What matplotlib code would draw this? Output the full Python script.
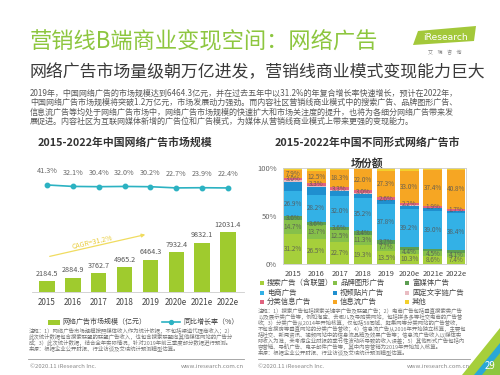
import matplotlib
matplotlib.use('Agg')
import matplotlib.pyplot as plt
from matplotlib.patches import Polygon, Rectangle
from matplotlib.lines import Line2D

plt.rcParams['font.family'] = ['Noto Sans CJK SC', 'DejaVu Sans']

# datos
years = ['2015', '2016', '2017', '2018', '2019', '2020e', '2021e', '2022e']
market = [2184.5, 2884.9, 3762.7, 4965.2, 6464.3, 7932.4, 9832.1, 12031.4]
growth = [41.3, 32.1, 30.4, 32.0, 30.2, 22.7, 23.9, 22.4]

share_names = ['搜索广告（含联盟）', '品牌图形广告', '富媒体广告', '电商广告', '视频贴片广告',
               '固定文字链广告', '分类信息广告', '信息流广告', '其他']
search = [31.2, 26.5, 22.7, 19.3, 13.5, 10.3, 8.6, 7.4]
brand = [14.7, 13.7, 12.5, 11.3, 7.7, 4.4, 4.5, 4.1]
rich = [3.6, 3.6, 3.6, 3.4, 3.7, 3.4, 3.0, 2.8]
ecom = [26.9, 28.2, 32.0, 35.2, 37.8, 39.2, 39.0, 38.4]
video = [9.0, 8.0, 5.0, 3.8, 3.6, 3.4, 3.0, 2.6]
fixed = [1.6, 1.2, 1.0, 0.8, 0.6, 0.5, 0.4, 0.4]
classified = [3.0, 3.3, 3.3, 3.0, 2.6, 2.2, 1.9, 1.7]
feed = [7.9, 12.5, 18.3, 22.0, 27.3, 33.0, 37.4, 40.8]
other = [2.1, 3.0, 1.6, 1.2, 3.2, 3.6, 2.2, 1.8]
shares = [search, brand, rich, ecom, video, fixed, classified, feed, other]
share_colors = ['#a6cf3b', '#86c04a', '#5c9e52', '#33b1e6', '#1f8fcf',
                '#e9bcc2', '#e0637f', '#f6a623', '#f3d02c']
# que años llevan etiqueta en cada serie
todos = [True] * 8
ninguno = [False] * 8
share_labeled = [todos, todos, [True] * 5 + [False] * 3, todos, ninguno,
                 ninguno, todos, todos, ninguno]

W, H = 500, 375


def fp(x, y):
    # pixeles -> fraccion de figura
    return x / W, 1 - y / H


def txt(x, y, s, **kw):
    kw.setdefault('va', 'center')
    fig.text(x / W, 1 - y / H, s, **kw)


def hline(x0, x1, y, color='#9a9a9a', lw=0.6):
    fig.add_artist(Line2D([x0 / W, x1 / W], [1 - y / H, 1 - y / H],
                          transform=fig.transFigure, color=color, lw=lw))


fig = plt.figure(figsize=(5, 3.75), dpi=100)
fig.patch.set_facecolor('white')

# encabezado
txt(30, 42, '营销线B端商业变现空间：网络广告', fontsize=16, color='#8dc63f')
txt(30, 72, '网络广告市场量级朝万亿进发，营销线商业模式变现能力巨大', fontsize=12.2, color='#3a3a3a')
parrafo = ['2019年，中国网络广告的市场规模达到6464.3亿元，并在过去五年中以31.2%的年复合增长率快速增长，预计在2022年，',
           '中国网络广告市场规模将突破1.2万亿元，市场发展动力强劲。而内容社区营销线商业模式中的搜索广告、品牌图形广告、',
           '信息流广告等均处于网络广告市场中，网络广告市场规模的快速扩大和市场关注度的提升，也将为各细分网络广告带来发',
           '展促进。内容社区为互联网媒体新增的广告位和广告模式，为媒体从营销线商业模式上带来更强的变现能力。']
for i, l in enumerate(parrafo):
    txt(30, 93 + i * 9.5, l, fontsize=5.8, color='#595959')

# logo
fig.add_artist(Polygon([fp(413, 45), fp(474, 41), fp(476, 26), fp(418, 31)],
                       closed=True, transform=fig.transFigure, facecolor='#a3c83a', edgecolor='none'))
txt(445, 37, 'iResearch', fontsize=6.6, color='white', ha='center', family='DejaVu Sans')
txt(445, 53, '艾    瑞    咨    询', fontsize=3.6, color='#888888', ha='center')

# titulos de graficas
txt(125, 143, '2015-2022年中国网络广告市场规模', fontsize=7.8, color='#333333', ha='center', weight='bold')
txt(367, 143, '2015-2022年中国不同形式网络广告市', fontsize=7.8, color='#333333', ha='center', weight='bold')
txt(367, 163, '场份额', fontsize=7.8, color='#333333', ha='center', weight='bold')

# grafica izquierda: barras + crecimiento
x = list(range(len(years)))
ax = fig.add_axes([31.5 / W, 1 - 292 / H, 212 / W, 127 / H])
ax.bar(x, market, width=0.6, color='#9fcb2e')
for xi, v in zip(x, market):
    ax.text(xi, v + 700, f'{v}', ha='center', va='bottom', fontsize=5.2, color='#555555')
ax.set_xlim(-0.6, 7.6)
ax.set_ylim(0, 25470)
ax.set_yticks([])
ax.set_xticks(x)
ax.set_xticklabels(years, fontsize=5.8, color='#444444')
ax.tick_params(axis='x', length=0, pad=4)
for s in ['top', 'right', 'left']:
    ax.spines[s].set_visible(False)
ax.spines['bottom'].set_color('#cccccc')
ax.spines['bottom'].set_linewidth(0.6)

ax2 = ax.twinx()
ax2.plot(x, growth, color='#2cb2c2', lw=1.2, marker='o', ms=3.2)
for xi, g in zip(x, growth):
    ax2.annotate(f'{g}%', (xi, g), xytext=(0, 7), textcoords='offset points',
                 ha='center', va='bottom', fontsize=5.2, color='#666666')
ax2.set_ylim(-633, 167)
ax2.axis('off')

# flecha CAGR
ax.annotate('', xy=(148, H - 234), xytext=(47, H - 257), xycoords='figure pixels',
            textcoords='figure pixels',
            arrowprops=dict(arrowstyle='-|>', color='#f0dc60', lw=0.9, mutation_scale=5))
txt(92, 242, 'CAGR=31.2%', fontsize=5, color='#e9cc3a', ha='center', rotation=12.8)

# leyenda izquierda
fig.add_artist(Rectangle(fp(48, 325), 12 / W, 5 / H, transform=fig.transFigure,
                         facecolor='#9fcb2e', edgecolor='none'))
txt(62, 322, '网络广告市场规模（亿元）', fontsize=5, color='#444444')
fig.add_artist(Line2D([162 / W, 180 / W], [1 - 322 / H, 1 - 322 / H], transform=fig.transFigure,
                      color='#2cb2c2', lw=1.2))
fig.add_artist(Line2D([171 / W], [1 - 322 / H], transform=fig.transFigure,
                      color='#2cb2c2', marker='o', ms=2.8))
txt(183, 322, '同比增长率（%）', fontsize=5, color='#444444')

notas_izq = ['注释：1）网络广告市场规模按照媒体收入作为统计依据，不包括渠道代理商收入；2）',
             '此次统计数据包含搜索联盟的联盟广告收入，也包含搜索联盟向其他媒体网站的广告分',
             '成；3）此次统计数据，结合全年实际情况，针对2019年前三季度部分数据进行预测。',
             '来源：根据企业公开财报、行业访谈及艾瑞统计预测模型估算。']
for i, l in enumerate(notas_izq):
    txt(29, 331 + i * 6, l, fontsize=3.9, color='#777777')

# grafica derecha: barras apiladas
bx = fig.add_axes([282.5 / W, 1 - 264 / H, 184 / W, 96 / H])
bottom = [0.0] * len(years)
for vals, col, lab in zip(shares, share_colors, share_labeled):
    bx.bar(x, vals, bottom=bottom, width=0.8, color=col)
    for xi, v, b, show in zip(x, vals, bottom, lab):
        if show:
            bx.text(xi, b + v / 2, f'{v}%', ha='center', va='center', fontsize=4.6,
                    color='#555555', alpha=0.85)
    bottom = [b + v for b, v in zip(bottom, vals)]
bx.set_xlim(-0.45, 7.45)
bx.set_ylim(0, 100)
bx.set_yticks([0, 50, 100])
bx.set_yticklabels(['0%', '50%', '100%'], fontsize=5.5, color='#666666')
bx.set_xticks(x)
bx.set_xticklabels(years, fontsize=5.4, color='#444444')
bx.tick_params(length=0, pad=4)
for s in bx.spines.values():
    s.set_color('#cccccc')
    s.set_linewidth(0.6)

# leyenda derecha
col_x = [262, 335, 407]
row_y = [283, 293, 302]
for i, (name, col) in enumerate(zip(share_names, share_colors)):
    cx = col_x[i % 3]
    cy = row_y[i // 3]
    fig.add_artist(Rectangle(fp(cx - 2, cy + 2), 4 / W, 4 / H, transform=fig.transFigure,
                             facecolor=col, edgecolor='none'))
    txt(cx + 5, cy, name, fontsize=5.3, color='#444444')

notas_der = ['注释：1）搜索广告包括搜索关键字广告及联盟广告；2）电商广告包括垂直搜索类广告',
             '以及展示类广告等，例如淘宝、去哪儿及导购类网站，包括拼多多等社交电商的广告营',
             '收；3）分类广告从2014年开始核算，仅包括58同城、赶集网等分类网站的广告营收，',
             '不包含搜房等垂直网站的分类广告营收；4）信息流广告从2016年开始独立核算，主要包',
             '括社交、新闻资讯、视频网站中的信息流品牌及效果广告等；信息流广告收入以媒体实',
             '际收入为准，未考虑企业财报的季节性波动所导致的收入误差；5）其他形式广告包括内',
             '容营销、导航广告、电子邮件广告等，其中内容营销为2019年开始加入核算。',
             '来源：根据企业公开财报、行业访谈及艾瑞统计预测模型估算。']
for i, l in enumerate(notas_der):
    txt(258, 311 + i * 6, l, fontsize=3.9, color='#777777')

# pie de pagina
hline(28, 244, 359)
hline(258, 470, 359)
txt(30, 366, '©2020.11 iResearch Inc.', fontsize=4.3, color='#888888')
txt(244, 366, 'www.iresearch.com.cn', fontsize=4.3, color='#888888', ha='right')
txt(258, 366, '©2020.11 iResearch Inc.', fontsize=4.3, color='#888888')
txt(470, 366, 'www.iresearch.com.cn', fontsize=4.3, color='#888888', ha='right')

fig.add_artist(Polygon([fp(462, 375), fp(500, 328), fp(500, 375)], closed=True,
                       transform=fig.transFigure, facecolor='#a6cf3b', edgecolor='none'))
fig.add_artist(Polygon([fp(474, 375), fp(500, 343), fp(500, 375)], closed=True,
                       transform=fig.transFigure, facecolor='#2aa7d8', edgecolor='none'))
fig.add_artist(Polygon([fp(482, 375), fp(500, 353), fp(500, 375)], closed=True,
                       transform=fig.transFigure, facecolor='#8dc63f', edgecolor='none'))
txt(490, 366, '29', fontsize=7, color='white', ha='center')

fig.savefig('out.png', dpi=100)
